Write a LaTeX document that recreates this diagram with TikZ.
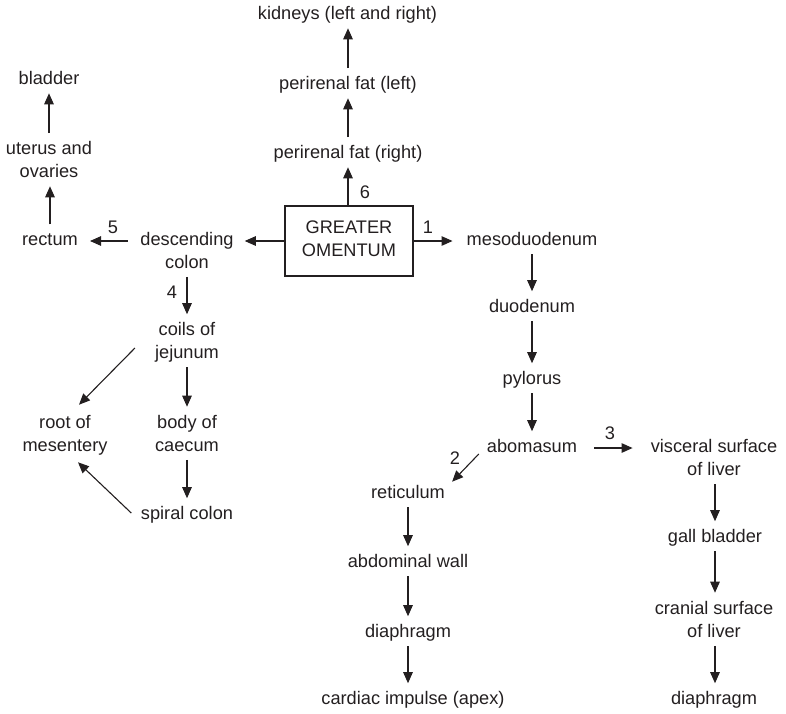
\documentclass[tikz,border=0pt]{standalone}
\usepackage{fontspec}
\setmainfont{Liberation Sans}
\usetikzlibrary{arrows.meta,calc}
\definecolor{ink}{RGB}{35,31,32}
\newcommand{\st}{\rule[-4pt]{0pt}{17pt}}
\newcommand{\nl}{\\\st}
\begin{document}
\begin{tikzpicture}[x=1pt,y=-1pt,
  every node/.style={font=\fontsize{18.2pt}{23pt}\selectfont, text=ink, inner sep=0pt, align=center, execute at begin node=\st},
  arr/.style={draw=ink, line width=1.1pt, -{Triangle[length=11pt,width=9.5pt]}},
  uparr/.style={arr, shorten <=8pt, shorten >=4.5pt},
  dnarr/.style={arr, shorten <=4.5pt, shorten >=8pt},
  boxnode/.style={draw=ink, line width=1.1pt, minimum width=128pt, minimum height=70pt}]
\useasboundingbox (0,0) rectangle (786,713);
% nodes
\node (kid) at (347.5,15) {kidneys (left and right)};
\node (perL) at (348,85) {perirenal fat (left)};
\node (perR) at (348,154) {perirenal fat (right)};
\node[boxnode] (box) at (349,241) {GREATER\nl OMENTUM};
\node (meso) at (532,241) {mesoduodenum};
\node (duo) at (532,308) {duodenum};
\node (pyl) at (532,380) {pylorus};
\node (abo) at (532,448) {abomasum};
\node (visc) at (714,459.5) {visceral surface\nl of liver};
\node (gall) at (715,538) {gall bladder};
\node (cran) at (714,621) {cranial surface\nl of liver};
\node (dia2) at (714,700) {diaphragm};
\node (reti) at (408,494) {reticulum};
\node (abd) at (408,563) {abdominal wall};
\node (dia1) at (408,633) {diaphragm};
\node (card) at (413,700) {cardiac impulse (apex)};
\node (desc) at (187,252) {descending\nl colon};
\node (rect) at (50,241) {rectum};
\node (uter) at (49,161.5) {uterus and\nl ovaries};
\node (blad) at (49,80) {bladder};
\node (coils) at (187,342.5) {coils of\nl jejunum};
\node (root) at (65,435) {root of\nl mesentery};
\node (body) at (187,435) {body of\nl caecum};
\node (spiral) at (187,515) {spiral colon};
% step labels
\node (l6) at (365,194) {6};
\node (l1) at (428,229) {1};
\node (l5) at (113,229) {5};
\node (l4) at (172,294) {4};
\node (l3) at (610,435) {3};
\node (l2) at (455,460) {2};
% connectors: upward
\draw[arr, shorten >=4.5pt] (box.north -| perR.south) -- (perR.south);
\draw[uparr] (perR.north) -- (perR.north |- perL.south);
\draw[uparr] (perL.north) -- (perL.north |- kid.south);
\draw[uparr] (rect.north) -- (rect.north |- uter.south);
\draw[uparr] (uter.north) -- (uter.north |- blad.south);
% downward
\draw[dnarr] (meso.south) -- (meso.south |- duo.north);
\draw[dnarr] (duo.south) -- (duo.south |- pyl.north);
\draw[dnarr] (pyl.south) -- (pyl.south |- abo.north);
\draw[dnarr] (desc.south) -- (desc.south |- coils.north);
\draw[dnarr] (coils.south) -- (coils.south |- body.north);
\draw[dnarr] (body.south) -- (body.south |- spiral.north);
\draw[dnarr] (reti.south) -- (reti.south |- abd.north);
\draw[dnarr] (abd.south) -- (abd.south |- dia1.north);
\draw[dnarr] (dia1.south) -- (dia1.south |- card.north);
\draw[dnarr] (gall.north |- visc.south) -- (gall.north);
\draw[dnarr] (gall.south) -- (gall.south |- cran.north);
\draw[dnarr] (cran.south -| gall.south) -- (gall.south |- dia2.north);
% horizontal
\draw[arr, shorten >=14pt] (box.east) -- (meso.west);
\draw[arr, shorten >=11pt] (box.west) -- (box.west -| desc.east);
\draw[arr, shorten <=12.5pt, shorten >=12pt] (rect.east -| desc.west) -- (rect.east);
\draw[arr, shorten <=17pt, shorten >=18pt] (abo.east) -- (abo.east -| visc.west);
% diagonal
\draw[arr] ($(coils.west)+(-20,5.5)$) -- ($(root.north)+(14,-10)$);
\draw[arr] ($(spiral.west)+(-9.5,-2)$) -- ($(root.south)+(13,7)$);
\draw[arr] ($(abo.west)+(-8,6)$) -- ($(reti.north east)+(7,-3.5)$);
\end{tikzpicture}
\end{document}
